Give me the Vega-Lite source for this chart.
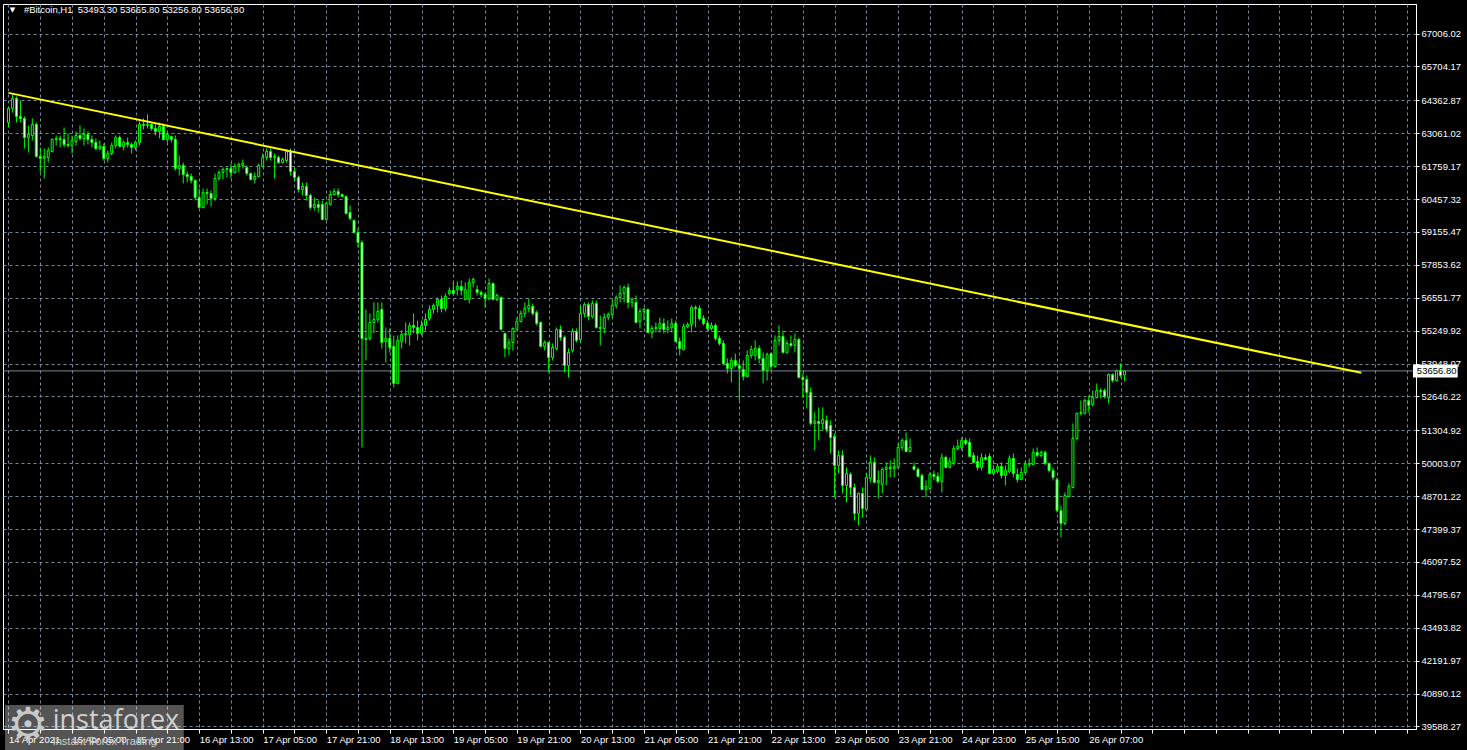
{
"$schema": "https://vega.github.io/schema/vega-lite/v6.json",
"width": 1413, "height": 725,
"autosize": {"type": "none"},
"padding": {"left": 3, "top": 4, "right": 51, "bottom": 21},
"background": "#000000",
"config": {
  "view": {"stroke": "#FFFFFF", "strokeWidth": 1},
  "axis": {"labelFont": "Liberation Sans", "labelFontSize": 9.5, "labelColor": "#FFFFFF", "domainColor": "#FFFFFF", "tickColor": "#FFFFFF", "gridColor": "#778899", "gridDash": [3, 3], "gridWidth": 1, "domainWidth": 1, "tickWidth": 1}
},
"datasets": {
  "candles": [
{"i":0,"o":63486,"h":64119,"l":63288,"c":64040},
{"i":1,"o":64040,"h":64593,"l":63881,"c":64435},
{"i":2,"o":64435,"h":64514,"l":63486,"c":63723},
{"i":3,"o":63723,"h":64356,"l":63486,"c":63644},
{"i":4,"o":63644,"h":63723,"l":62457,"c":62892},
{"i":5,"o":62892,"h":63367,"l":62299,"c":63011},
{"i":6,"o":62971,"h":63644,"l":62774,"c":63407},
{"i":7,"o":63407,"h":63486,"l":62101,"c":62141},
{"i":8,"o":62141,"h":62497,"l":61508,"c":62062},
{"i":9,"o":62062,"h":62457,"l":61270,"c":62141},
{"i":10,"o":62101,"h":62497,"l":61903,"c":62378},
{"i":11,"o":62338,"h":62853,"l":62299,"c":62813},
{"i":12,"o":62813,"h":62971,"l":62576,"c":62853},
{"i":13,"o":62853,"h":62971,"l":62497,"c":62813},
{"i":14,"o":62813,"h":63288,"l":62497,"c":62615},
{"i":15,"o":62615,"h":63051,"l":62497,"c":62576},
{"i":16,"o":62576,"h":62971,"l":62259,"c":62774},
{"i":17,"o":62734,"h":63130,"l":62576,"c":62971},
{"i":18,"o":62971,"h":63367,"l":62774,"c":62853},
{"i":19,"o":62853,"h":63248,"l":62576,"c":63011},
{"i":20,"o":63011,"h":63130,"l":62615,"c":62813},
{"i":21,"o":62813,"h":62971,"l":62497,"c":62694},
{"i":22,"o":62694,"h":62853,"l":62378,"c":62457},
{"i":23,"o":62457,"h":62774,"l":62378,"c":62536},
{"i":24,"o":62536,"h":62655,"l":61982,"c":62062},
{"i":25,"o":62062,"h":62378,"l":61903,"c":62259},
{"i":26,"o":62259,"h":62694,"l":62180,"c":62576},
{"i":27,"o":62576,"h":62971,"l":62457,"c":62892},
{"i":28,"o":62892,"h":62971,"l":62497,"c":62536},
{"i":29,"o":62536,"h":62774,"l":62378,"c":62694},
{"i":30,"o":62694,"h":62892,"l":62497,"c":62615},
{"i":31,"o":62615,"h":62694,"l":62259,"c":62497},
{"i":32,"o":62497,"h":62774,"l":62378,"c":62694},
{"i":33,"o":62694,"h":63525,"l":62576,"c":63407},
{"i":34,"o":63407,"h":63644,"l":63209,"c":63367},
{"i":35,"o":63367,"h":63802,"l":63248,"c":63407},
{"i":36,"o":63407,"h":63446,"l":63169,"c":63248},
{"i":37,"o":63248,"h":63407,"l":62971,"c":63130},
{"i":38,"o":63130,"h":63486,"l":62853,"c":63327},
{"i":39,"o":63327,"h":63446,"l":62774,"c":62813},
{"i":40,"o":62813,"h":63090,"l":62694,"c":63011},
{"i":41,"o":62932,"h":62971,"l":62694,"c":62813},
{"i":42,"o":62813,"h":62971,"l":61587,"c":61666},
{"i":43,"o":61666,"h":62180,"l":61389,"c":61785},
{"i":44,"o":61785,"h":61903,"l":61073,"c":61429},
{"i":45,"o":61429,"h":61547,"l":61112,"c":61349},
{"i":46,"o":61349,"h":61468,"l":61073,"c":61191},
{"i":47,"o":61191,"h":61231,"l":60400,"c":60519},
{"i":48,"o":60519,"h":60875,"l":60084,"c":60123},
{"i":49,"o":60123,"h":60875,"l":60084,"c":60717},
{"i":50,"o":60717,"h":60875,"l":60242,"c":60677},
{"i":51,"o":60677,"h":60796,"l":60163,"c":60479},
{"i":52,"o":60479,"h":61468,"l":60400,"c":61270},
{"i":53,"o":61270,"h":61587,"l":61191,"c":61508},
{"i":54,"o":61508,"h":61706,"l":61231,"c":61626},
{"i":55,"o":61626,"h":61706,"l":61310,"c":61666},
{"i":56,"o":61666,"h":61864,"l":61270,"c":61508},
{"i":57,"o":61508,"h":61864,"l":61468,"c":61745},
{"i":58,"o":61745,"h":61903,"l":61508,"c":61824},
{"i":59,"o":61785,"h":62022,"l":61666,"c":61864},
{"i":60,"o":61706,"h":61785,"l":61389,"c":61468},
{"i":61,"o":61468,"h":61508,"l":61191,"c":61231},
{"i":62,"o":61231,"h":61508,"l":61073,"c":61349},
{"i":63,"o":61349,"h":61864,"l":61310,"c":61785},
{"i":64,"o":61745,"h":62259,"l":61706,"c":62101},
{"i":65,"o":62101,"h":62457,"l":61982,"c":62338},
{"i":66,"o":62338,"h":62457,"l":61982,"c":62101},
{"i":67,"o":62101,"h":62259,"l":61270,"c":62141},
{"i":68,"o":62101,"h":62180,"l":61864,"c":61903},
{"i":69,"o":61903,"h":62101,"l":61864,"c":62022},
{"i":70,"o":61982,"h":62418,"l":61903,"c":62338},
{"i":71,"o":62338,"h":62457,"l":61389,"c":61547},
{"i":72,"o":61547,"h":61706,"l":61191,"c":61310},
{"i":73,"o":61310,"h":61389,"l":60717,"c":60835},
{"i":74,"o":60835,"h":61112,"l":60598,"c":60954},
{"i":75,"o":60954,"h":61112,"l":60400,"c":60598},
{"i":76,"o":60598,"h":60677,"l":60044,"c":60123},
{"i":77,"o":60123,"h":60519,"l":60004,"c":60242},
{"i":78,"o":60242,"h":60400,"l":59925,"c":60123},
{"i":79,"o":60242,"h":60400,"l":59609,"c":59648},
{"i":80,"o":59648,"h":60360,"l":59609,"c":60281},
{"i":81,"o":60242,"h":60796,"l":60202,"c":60637},
{"i":82,"o":60637,"h":60875,"l":60598,"c":60756},
{"i":83,"o":60756,"h":60875,"l":60519,"c":60637},
{"i":84,"o":60637,"h":60677,"l":60519,"c":60558},
{"i":85,"o":60558,"h":60598,"l":59846,"c":59886},
{"i":86,"o":59925,"h":60202,"l":59609,"c":59688},
{"i":87,"o":59609,"h":59648,"l":59095,"c":59134},
{"i":88,"o":59134,"h":59292,"l":58541,"c":58739},
{"i":89,"o":58739,"h":58816,"l":50629,"c":54941},
{"i":90,"o":54941,"h":56088,"l":54070,"c":54901},
{"i":91,"o":54941,"h":55930,"l":54862,"c":55574},
{"i":92,"o":55574,"h":56365,"l":55139,"c":55692},
{"i":93,"o":55692,"h":56365,"l":55574,"c":56009},
{"i":94,"o":56088,"h":56365,"l":54545,"c":54783},
{"i":95,"o":54822,"h":55376,"l":53991,"c":54941},
{"i":96,"o":54941,"h":55336,"l":54387,"c":54585},
{"i":97,"o":54624,"h":55059,"l":53002,"c":53161},
{"i":98,"o":53161,"h":55059,"l":53121,"c":54862},
{"i":99,"o":54822,"h":55257,"l":54545,"c":55099},
{"i":100,"o":55099,"h":55574,"l":54743,"c":55139},
{"i":101,"o":55099,"h":55574,"l":54664,"c":55455},
{"i":102,"o":55455,"h":55930,"l":55139,"c":55376},
{"i":103,"o":55376,"h":55653,"l":54862,"c":55139},
{"i":104,"o":55139,"h":55653,"l":55059,"c":55455},
{"i":105,"o":55455,"h":55930,"l":55257,"c":55692},
{"i":106,"o":55732,"h":56246,"l":55653,"c":56088},
{"i":107,"o":56088,"h":56325,"l":55930,"c":56246},
{"i":108,"o":56246,"h":56563,"l":55969,"c":56484},
{"i":109,"o":56484,"h":56642,"l":55969,"c":56128},
{"i":110,"o":56128,"h":56721,"l":56009,"c":56602},
{"i":111,"o":56721,"h":56958,"l":56642,"c":56840},
{"i":112,"o":56840,"h":57156,"l":56642,"c":56721},
{"i":113,"o":56879,"h":57196,"l":56642,"c":56998},
{"i":114,"o":56998,"h":57235,"l":56642,"c":56840},
{"i":115,"o":56484,"h":57156,"l":56444,"c":56879},
{"i":116,"o":56484,"h":57314,"l":56325,"c":57156},
{"i":117,"o":57156,"h":57354,"l":56958,"c":57275},
{"i":118,"o":56879,"h":57037,"l":56642,"c":56760},
{"i":119,"o":56760,"h":56840,"l":56563,"c":56681},
{"i":120,"o":56681,"h":56760,"l":56167,"c":56523},
{"i":121,"o":56523,"h":57314,"l":56444,"c":57116},
{"i":122,"o":57116,"h":57156,"l":56444,"c":56484},
{"i":123,"o":56484,"h":56721,"l":56404,"c":56642},
{"i":124,"o":56563,"h":56602,"l":55257,"c":55297},
{"i":125,"o":55139,"h":55178,"l":54189,"c":54545},
{"i":126,"o":54545,"h":54941,"l":54268,"c":54783},
{"i":127,"o":54783,"h":55376,"l":54466,"c":55336},
{"i":128,"o":55297,"h":55772,"l":55257,"c":55613},
{"i":129,"o":55613,"h":56048,"l":55574,"c":55930},
{"i":130,"o":55930,"h":56365,"l":55772,"c":56128},
{"i":131,"o":56128,"h":56523,"l":55969,"c":56246},
{"i":132,"o":56207,"h":56325,"l":55851,"c":55930},
{"i":133,"o":55969,"h":56048,"l":55455,"c":55534},
{"i":134,"o":55574,"h":55613,"l":54585,"c":54624},
{"i":135,"o":54624,"h":54862,"l":54466,"c":54783},
{"i":136,"o":54783,"h":54822,"l":53596,"c":54189},
{"i":137,"o":54189,"h":54743,"l":54070,"c":54585},
{"i":138,"o":54545,"h":55376,"l":54466,"c":55297},
{"i":139,"o":55297,"h":55455,"l":54862,"c":54980},
{"i":140,"o":54980,"h":55059,"l":53596,"c":53873},
{"i":141,"o":53873,"h":54545,"l":53398,"c":54387},
{"i":142,"o":54466,"h":55336,"l":54387,"c":55218},
{"i":143,"o":55218,"h":55336,"l":54783,"c":54862},
{"i":144,"o":54901,"h":56246,"l":54783,"c":55930},
{"i":145,"o":55930,"h":56365,"l":55772,"c":56286},
{"i":146,"o":56286,"h":56365,"l":55653,"c":55811},
{"i":147,"o":55811,"h":56444,"l":55732,"c":56325},
{"i":148,"o":56325,"h":56444,"l":55336,"c":55376},
{"i":149,"o":55376,"h":55851,"l":54664,"c":55336},
{"i":150,"o":55336,"h":55930,"l":55139,"c":55772},
{"i":151,"o":55772,"h":55969,"l":55653,"c":55890},
{"i":152,"o":55890,"h":56444,"l":55772,"c":56246},
{"i":153,"o":56246,"h":56642,"l":56128,"c":56563},
{"i":154,"o":56563,"h":57037,"l":56365,"c":56721},
{"i":155,"o":56721,"h":57037,"l":56365,"c":56958},
{"i":156,"o":56958,"h":57116,"l":56128,"c":56365},
{"i":157,"o":56365,"h":56563,"l":56167,"c":56484},
{"i":158,"o":56365,"h":56642,"l":55534,"c":55574},
{"i":159,"o":55613,"h":56128,"l":55336,"c":56009},
{"i":160,"o":56009,"h":56167,"l":55653,"c":56088},
{"i":161,"o":56088,"h":56128,"l":55139,"c":55178},
{"i":162,"o":55178,"h":55455,"l":54941,"c":55336},
{"i":163,"o":55336,"h":55574,"l":55178,"c":55376},
{"i":164,"o":55336,"h":55772,"l":55178,"c":55534},
{"i":165,"o":55534,"h":55732,"l":55139,"c":55297},
{"i":166,"o":55297,"h":55653,"l":55139,"c":55376},
{"i":167,"o":55376,"h":55732,"l":55178,"c":55534},
{"i":168,"o":55534,"h":55653,"l":54783,"c":54822},
{"i":169,"o":54822,"h":54980,"l":54268,"c":54545},
{"i":170,"o":54506,"h":55534,"l":54466,"c":55415},
{"i":171,"o":55415,"h":55574,"l":55336,"c":55495},
{"i":172,"o":55495,"h":56246,"l":55178,"c":56167},
{"i":173,"o":56167,"h":56246,"l":55376,"c":56128},
{"i":174,"o":56128,"h":56246,"l":55653,"c":55732},
{"i":175,"o":55732,"h":55851,"l":55455,"c":55534},
{"i":176,"o":55534,"h":55653,"l":55257,"c":55336},
{"i":177,"o":55336,"h":55574,"l":55257,"c":55455},
{"i":178,"o":55455,"h":55534,"l":54862,"c":54941},
{"i":179,"o":54941,"h":55059,"l":54664,"c":54743},
{"i":180,"o":54743,"h":54862,"l":53873,"c":53952},
{"i":181,"o":53952,"h":54150,"l":53556,"c":53754},
{"i":182,"o":53754,"h":54189,"l":53200,"c":54070},
{"i":183,"o":54070,"h":54347,"l":53794,"c":53873},
{"i":184,"o":53873,"h":54070,"l":52486,"c":53754},
{"i":185,"o":53714,"h":54070,"l":53277,"c":53437},
{"i":186,"o":53437,"h":54466,"l":53398,"c":54268},
{"i":187,"o":54268,"h":54664,"l":54150,"c":54506},
{"i":188,"o":54268,"h":54862,"l":54070,"c":54545},
{"i":189,"o":54545,"h":54664,"l":53952,"c":54150},
{"i":190,"o":54150,"h":54387,"l":53161,"c":53675},
{"i":191,"o":53675,"h":54387,"l":53277,"c":54308},
{"i":192,"o":54347,"h":54387,"l":53675,"c":53833},
{"i":193,"o":53833,"h":55059,"l":53794,"c":54862},
{"i":194,"o":54862,"h":55455,"l":54664,"c":55020},
{"i":195,"o":55020,"h":55257,"l":54347,"c":54387},
{"i":196,"o":54387,"h":54862,"l":54347,"c":54743},
{"i":197,"o":54743,"h":55059,"l":54585,"c":54664},
{"i":198,"o":54664,"h":55139,"l":54387,"c":54901},
{"i":199,"o":54901,"h":54980,"l":53358,"c":53398},
{"i":200,"o":53398,"h":53556,"l":52607,"c":53319},
{"i":201,"o":53319,"h":53477,"l":52172,"c":52805},
{"i":202,"o":52805,"h":53002,"l":51499,"c":51578},
{"i":203,"o":51578,"h":52013,"l":50510,"c":51657},
{"i":204,"o":51657,"h":52211,"l":50906,"c":51578},
{"i":205,"o":51578,"h":52211,"l":51301,"c":51736},
{"i":206,"o":51697,"h":51895,"l":51222,"c":51341},
{"i":207,"o":51499,"h":51697,"l":50391,"c":51024},
{"i":208,"o":51064,"h":51183,"l":48651,"c":49917},
{"i":209,"o":49917,"h":50510,"l":49600,"c":50312},
{"i":210,"o":50312,"h":50510,"l":48809,"c":49125},
{"i":211,"o":49125,"h":49838,"l":48453,"c":49600},
{"i":212,"o":49561,"h":49640,"l":48730,"c":49046},
{"i":213,"o":49046,"h":49205,"l":47741,"c":48018},
{"i":214,"o":48018,"h":48849,"l":47543,"c":48809},
{"i":215,"o":48809,"h":49046,"l":47860,"c":48216},
{"i":216,"o":48176,"h":49600,"l":48136,"c":49442},
{"i":217,"o":49402,"h":50312,"l":49244,"c":50035},
{"i":218,"o":50035,"h":50233,"l":49205,"c":49244},
{"i":219,"o":49244,"h":49719,"l":48611,"c":49323},
{"i":220,"o":49165,"h":49838,"l":48809,"c":49758},
{"i":221,"o":49758,"h":50035,"l":49125,"c":49838},
{"i":222,"o":49838,"h":50114,"l":49442,"c":49798},
{"i":223,"o":49798,"h":50194,"l":49442,"c":49877},
{"i":224,"o":49838,"h":50787,"l":49798,"c":50629},
{"i":225,"o":50629,"h":50985,"l":50510,"c":50906},
{"i":226,"o":50906,"h":51222,"l":50431,"c":50470},
{"i":227,"o":50470,"h":50985,"l":50431,"c":50629},
{"i":228,"o":49877,"h":50035,"l":49719,"c":49758},
{"i":229,"o":49758,"h":49838,"l":49442,"c":49481},
{"i":230,"o":49521,"h":49600,"l":48928,"c":48967},
{"i":231,"o":48967,"h":49323,"l":48651,"c":49086},
{"i":232,"o":49007,"h":49640,"l":48928,"c":49561},
{"i":233,"o":49561,"h":49719,"l":49323,"c":49481},
{"i":234,"o":49481,"h":49640,"l":49205,"c":49284},
{"i":235,"o":49284,"h":50391,"l":48849,"c":50233},
{"i":236,"o":50233,"h":50312,"l":49798,"c":49838},
{"i":237,"o":49838,"h":50233,"l":49798,"c":50075},
{"i":238,"o":50035,"h":50708,"l":49917,"c":50589},
{"i":239,"o":50589,"h":50945,"l":50510,"c":50668},
{"i":240,"o":50629,"h":51024,"l":50510,"c":50906},
{"i":241,"o":50906,"h":51024,"l":50708,"c":50787},
{"i":242,"o":50827,"h":50985,"l":50233,"c":50273},
{"i":243,"o":50312,"h":50431,"l":49996,"c":50035},
{"i":244,"o":50075,"h":50312,"l":49719,"c":49838},
{"i":245,"o":49838,"h":50391,"l":49719,"c":50233},
{"i":246,"o":50233,"h":50352,"l":50114,"c":50154},
{"i":247,"o":50273,"h":50391,"l":49561,"c":49600},
{"i":248,"o":49600,"h":49917,"l":49521,"c":49758},
{"i":249,"o":49679,"h":49996,"l":49600,"c":49877},
{"i":250,"o":49877,"h":50035,"l":49402,"c":49521},
{"i":251,"o":49521,"h":49917,"l":49125,"c":49719},
{"i":252,"o":49679,"h":50312,"l":49600,"c":50194},
{"i":253,"o":50194,"h":50391,"l":49442,"c":49600},
{"i":254,"o":49561,"h":49798,"l":49244,"c":49363},
{"i":255,"o":49363,"h":49838,"l":49323,"c":49640},
{"i":256,"o":49640,"h":50114,"l":49600,"c":49956},
{"i":257,"o":49956,"h":50194,"l":49838,"c":49996},
{"i":258,"o":49956,"h":50589,"l":49917,"c":50431},
{"i":259,"o":50431,"h":50629,"l":50233,"c":50312},
{"i":260,"o":50312,"h":50510,"l":50233,"c":50431},
{"i":261,"o":50431,"h":50510,"l":49917,"c":49996},
{"i":262,"o":49996,"h":50035,"l":49640,"c":49719},
{"i":263,"o":49719,"h":49838,"l":49323,"c":49442},
{"i":264,"o":49363,"h":49442,"l":48057,"c":48136},
{"i":265,"o":48136,"h":48334,"l":47068,"c":47622},
{"i":266,"o":47622,"h":48849,"l":47543,"c":48730},
{"i":267,"o":48690,"h":49205,"l":48651,"c":49086},
{"i":268,"o":49046,"h":51578,"l":49007,"c":50985},
{"i":269,"o":50985,"h":52013,"l":50906,"c":51974},
{"i":270,"o":51974,"h":52486,"l":51895,"c":52013},
{"i":271,"o":51974,"h":52567,"l":51934,"c":52486},
{"i":272,"o":52486,"h":52686,"l":52013,"c":52290},
{"i":273,"o":52330,"h":52882,"l":52251,"c":52607},
{"i":274,"o":52607,"h":53161,"l":52567,"c":52882},
{"i":275,"o":52882,"h":52963,"l":52567,"c":52844},
{"i":276,"o":52882,"h":52963,"l":52567,"c":52646},
{"i":277,"o":52607,"h":53556,"l":52369,"c":53517},
{"i":278,"o":53517,"h":53556,"l":53200,"c":53277},
{"i":279,"o":53277,"h":53714,"l":53240,"c":53675},
{"i":280,"o":53675,"h":53952,"l":53398,"c":53477},
{"i":281,"o":53493.3,"h":53665.8,"l":53256.8,"c":53656.8}
  ],
  "trend": [{"i": 0, "p": 64657}, {"i": 340.6, "p": 53580}],
  "last": [{"close": 53656.8, "top": 53914, "bottom": 53400}],
  "header": [{"t": "#Bitcoin,H1\u00a0 53493.30 53665.80 53256.80 53656.80"}],
  "logo": [{"name": "instaforex", "slogan": "Instant Forex Trading", "icon": "⚙"}]
},
"layer": [
  {
    "data": {"name": "last"},
    "mark": {"type": "rule", "color": "#778899", "strokeWidth": 1},
    "encoding": {
      "y": {"field": "close", "type": "quantitative", "scale": {"domain": [39489.26, 68173.16], "nice": false, "zero": false}}
    }
  },
  {
    "data": {"name": "candles"},
    "mark": {"type": "rule", "color": "#00FF00", "strokeWidth": 1},
    "encoding": {
      "x": {"field": "i", "type": "quantitative", "title": null,
        "scale": {"domain": [-0.125, 353.125], "nice": false, "zero": false},
        "axis": {"orient": "bottom", "grid": true, "tickCount": 500, "tickSize": 4, "labelPadding": 1, "labelAlign": "left", "labelBaseline": "top", "labelOverlap": false, "labelFlush": false, "labelBound": false,
          "values": [0,8,16,24,32,40,48,56,64,72,80,88,96,104,112,120,128,136,144,152,160,168,176,184,192,200,208,216,224,232,240,248,256,264,272,280,288,296,304,312,320,328,336,344,352],
          "labelExpr": "(datum.value % 16 == 0 && datum.value <= 272) ? ['14 Apr 2021','15 Apr 05:00','15 Apr 21:00','16 Apr 13:00','17 Apr 05:00','17 Apr 21:00','18 Apr 13:00','19 Apr 05:00','19 Apr 21:00','20 Apr 13:00','21 Apr 05:00','21 Apr 21:00','22 Apr 13:00','23 Apr 05:00','23 Apr 21:00','24 Apr 23:00','25 Apr 15:00','26 Apr 07:00'][datum.value / 16] : ''"}},
      "y": {"field": "l", "type": "quantitative", "title": null,
        "scale": {"domain": [39489.26, 68173.16], "nice": false, "zero": false},
        "axis": {"orient": "right", "grid": true, "tickCount": 500, "tickSize": 3, "labelPadding": 2, "labelBaseline": "middle", "labelOverlap": false, "labelFlush": false, "labelBound": false, "format": ".2f",
          "values": [39588.27, 40890.12, 42191.97, 43493.82, 44795.67, 46097.52, 47399.37, 48701.22, 50003.07, 51304.92, 52646.22, 53948.07, 55249.92, 56551.77, 57853.62, 59155.47, 60457.32, 61759.17, 63061.02, 64362.87, 65704.17, 67006.02]}},
      "y2": {"field": "h"}
    }
  },
  {
    "data": {"name": "candles"},
    "mark": {"type": "bar", "size": 2, "stroke": "#00FF00", "strokeWidth": 1},
    "encoding": {
      "x": {"field": "i", "type": "quantitative", "scale": {"domain": [-0.125, 353.125], "nice": false, "zero": false}},
      "y": {"field": "o", "type": "quantitative", "scale": {"domain": [39489.26, 68173.16], "nice": false, "zero": false}},
      "y2": {"field": "c"},
      "fill": {"condition": {"test": "datum.c < datum.o", "value": "#FFFFFF"}, "value": "#000000"}
    }
  },
  {
    "data": {"name": "trend"},
    "mark": {"type": "line", "color": "#FFFF00", "strokeWidth": 2},
    "encoding": {
      "x": {"field": "i", "type": "quantitative", "scale": {"domain": [-0.125, 353.125], "nice": false, "zero": false}},
      "y": {"field": "p", "type": "quantitative", "scale": {"domain": [39489.26, 68173.16], "nice": false, "zero": false}}
    }
  },
  {
    "data": {"name": "header"},
    "mark": {"type": "text", "text": "▼", "fontSize": 7, "color": "#FFFFFF", "align": "center", "baseline": "middle", "font": "DejaVu Sans"},
    "encoding": {
      "x": {"datum": 1.0, "type": "quantitative", "scale": {"domain": [-0.125, 353.125], "nice": false, "zero": false}},
      "y": {"datum": 67936, "type": "quantitative", "scale": {"domain": [39489.26, 68173.16], "nice": false, "zero": false}}
    }
  },
  {
    "data": {"name": "header"},
    "mark": {"type": "text", "fontSize": 9.5, "color": "#FFFFFF", "align": "left", "baseline": "middle", "font": "Liberation Sans"},
    "encoding": {
      "x": {"datum": 3.875, "type": "quantitative", "scale": {"domain": [-0.125, 353.125], "nice": false, "zero": false}},
      "y": {"datum": 67936, "type": "quantitative", "scale": {"domain": [39489.26, 68173.16], "nice": false, "zero": false}},
      "text": {"field": "t"}
    }
  },
  {
    "data": {"name": "last"},
    "mark": {"type": "rect", "fill": "#FFFFFF", "clip": false},
    "encoding": {
      "x": {"datum": 353.625, "type": "quantitative", "scale": {"domain": [-0.125, 353.125], "nice": false, "zero": false}},
      "x2": {"datum": 364.875},
      "y": {"field": "top", "type": "quantitative", "scale": {"domain": [39489.26, 68173.16], "nice": false, "zero": false}},
      "y2": {"field": "bottom"}
    }
  },
  {
    "data": {"name": "last"},
    "mark": {"type": "text", "fontSize": 9.5, "color": "#000000", "align": "left", "baseline": "middle", "font": "Liberation Sans", "clip": false},
    "encoding": {
      "x": {"datum": 354.6, "type": "quantitative", "scale": {"domain": [-0.125, 353.125], "nice": false, "zero": false}},
      "y": {"field": "close", "type": "quantitative", "scale": {"domain": [39489.26, 68173.16], "nice": false, "zero": false}},
      "text": {"field": "close", "format": ".2f"}
    }
  },
  {
    "data": {"name": "logo"},
    "mark": {"type": "rect", "fill": "#FFFFFF", "opacity": 0.33, "clip": false},
    "encoding": {
      "x": {"datum": -0.875, "type": "quantitative", "scale": {"domain": [-0.125, 353.125], "nice": false, "zero": false}},
      "x2": {"datum": 44.125},
      "y": {"datum": 40439, "type": "quantitative", "scale": {"domain": [39489.26, 68173.16], "nice": false, "zero": false}},
      "y2": {"datum": 38658}
    }
  },
  {
    "data": {"name": "logo"},
    "mark": {"type": "text", "fontSize": 46, "color": "#C8C8C8", "align": "center", "baseline": "middle", "font": "DejaVu Sans", "clip": false},
    "encoding": {
      "x": {"datum": 4.875, "type": "quantitative", "scale": {"domain": [-0.125, 353.125], "nice": false, "zero": false}},
      "y": {"datum": 39608, "type": "quantitative", "scale": {"domain": [39489.26, 68173.16], "nice": false, "zero": false}},
      "text": {"field": "icon"}
    }
  },
  {
    "data": {"name": "logo"},
    "mark": {"type": "text", "fontSize": 27, "color": "#D0D0D0", "align": "left", "baseline": "alphabetic", "font": "Open Sans", "clip": false},
    "encoding": {
      "x": {"datum": 11.125, "type": "quantitative", "scale": {"domain": [-0.125, 353.125], "nice": false, "zero": false}},
      "y": {"datum": 39489, "type": "quantitative", "scale": {"domain": [39489.26, 68173.16], "nice": false, "zero": false}},
      "text": {"field": "name"}
    }
  },
  {
    "data": {"name": "logo"},
    "mark": {"type": "text", "fontSize": 11, "color": "#D0D0D0", "align": "left", "baseline": "alphabetic", "font": "Liberation Sans", "clip": false},
    "encoding": {
      "x": {"datum": 11.125, "type": "quantitative", "scale": {"domain": [-0.125, 353.125], "nice": false, "zero": false}},
      "y": {"datum": 38855, "type": "quantitative", "scale": {"domain": [39489.26, 68173.16], "nice": false, "zero": false}},
      "text": {"field": "slogan"}
    }
  }
]
}
